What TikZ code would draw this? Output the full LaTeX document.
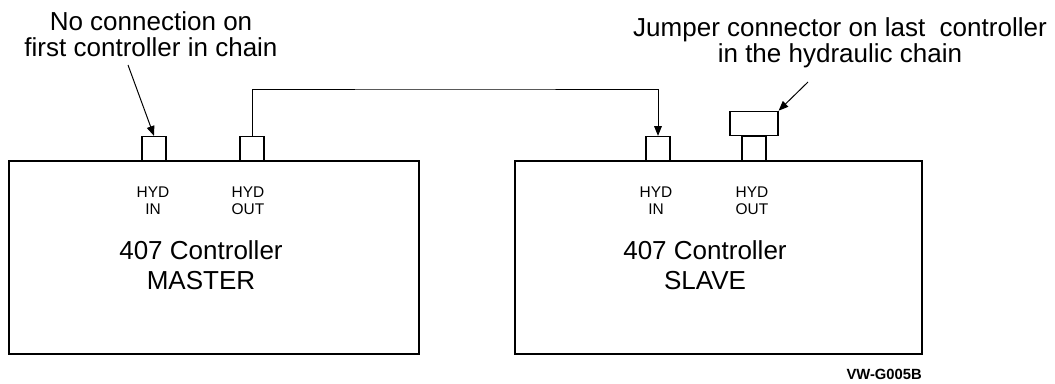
\documentclass[tikz,border=0pt]{standalone}
\usepackage{fontspec}
\setmainfont{Liberation Sans}
\usetikzlibrary{arrows.meta}

\begin{document}
\begin{tikzpicture}[x=0.025cm, y=-0.025cm,
    unit/.style={draw, line width=0.9pt, minimum height=4.825cm, inner sep=0pt},
    port/.style={draw, line width=0.8pt, minimum width=0.6cm, minimum height=0.6cm, inner sep=0pt, anchor=south},
    note/.style={align=center, inner sep=0pt, anchor=base, font=\fontsize{18.5}{17.8}\selectfont},
    title/.style={align=center, inner sep=0pt, anchor=base, font=\fontsize{18.5}{21.3}\selectfont},
    tag/.style={align=center, inner sep=0pt, anchor=base, font=\fontsize{11}{11.4}\selectfont},
    pointer/.style={line width=0.7pt, -{Triangle[length=7pt,width=5.5pt]}}]
    \useasboundingbox (0,0) rectangle (1055,383);

    % Controllers
    \node[unit, minimum width=10.25cm] (master) at (214,257.5) {};
    \node[unit, minimum width=10.175cm] (slave) at (718.5,257.5) {};

    % Ports
    \node[port] (mIn) at (154,161) {};
    \node[port] (mOut) at (252,161) {};
    \node[port] (sIn) at (658,161) {};
    \node[port] (sOut) at (754,161) {};
    \node[port, minimum width=1.2cm] (jumper) at (sOut.north) {};

    % Hydraulic line
    \coordinate (cable) at (455,89);
    \draw[pointer] (mOut.north) |- (cable) -| (sIn.north);

    % Notes
    \node[note] (note1) at (151,56) {No connection on\\first controller in chain};
    \node[note] (note2) at (840,62) {Jumper connector on last\ \ controller\\in the hydraulic chain};
    \coordinate (n1) at (128,65);
    \coordinate (n2) at (808,82);
    \draw[pointer] (n1) -- (mIn.north);
    \draw[pointer] (n2) -- (jumper.north east);

    % Labels
    \node[tag] (mInLbl) at (153,214) {HYD\\IN};
    \node[tag] (mOutLbl) at (248,214) {HYD\\OUT};
    \node[tag] (sInLbl) at (656,214) {HYD\\IN};
    \node[tag] (sOutLbl) at (752,214) {HYD\\OUT};
    \node[title] (mName) at (201,289) {407 Controller\\MASTER};
    \node[title] (sName) at (705,289) {407 Controller\\SLAVE};
    \node[anchor=base east, inner sep=0pt, font=\fontsize{10.5}{12}\selectfont\bfseries] (figId) at (922,379) {VW-G005B};
\end{tikzpicture}
\end{document}
